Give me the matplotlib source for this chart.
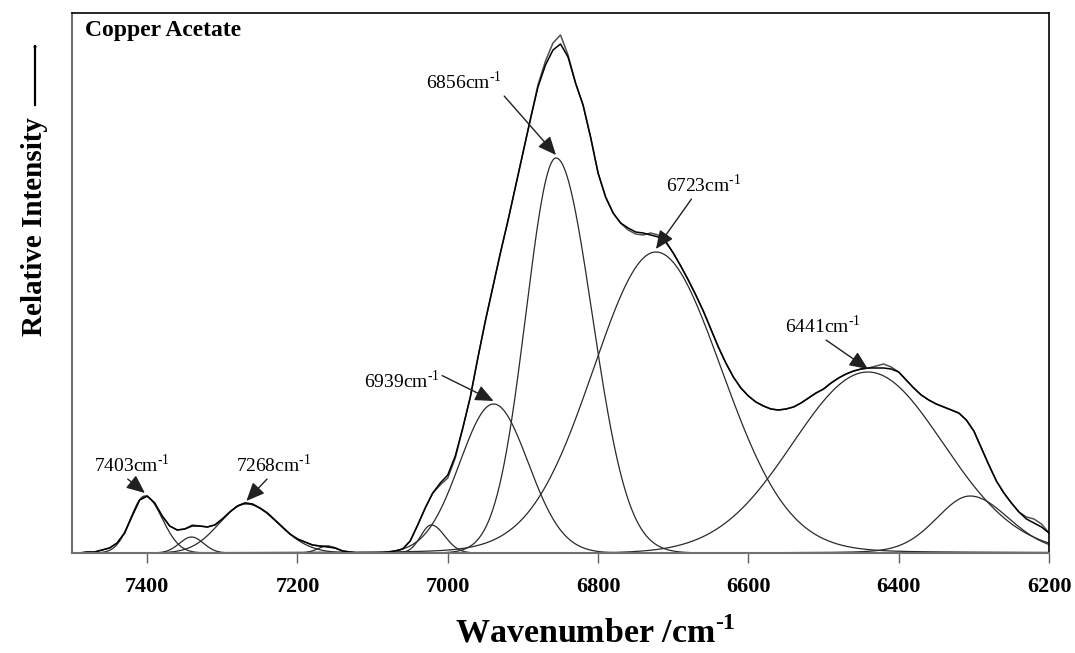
import numpy as np
import matplotlib
matplotlib.use("Agg")
import matplotlib.pyplot as plt

plt.rcParams['font.family'] = ['Liberation Serif', 'DejaVu Serif']
plt.rcParams['mathtext.fontset'] = 'custom'
plt.rcParams['mathtext.rm'] = 'Liberation Serif'
plt.rcParams['mathtext.bf'] = 'Liberation Serif:bold'

# ---- fitted band components (intensity in arbitrary units) ----
centers = [7403, 7341, 7268, 7160, 7022, 6939, 6856, 6723, 6441, 6305]
heights = [57, 16, 49, 7, 28, 149, 395, 301, 181, 57]
width_high = [19, 16, 36, 13, 14, 45, 40, 84, 100, 45]   # sigma, high-wavenumber side
width_low = [23, 16, 42, 13, 18, 46, 48, 88, 100, 52]    # sigma, low-wavenumber side
lorentz_frac = [0.0, 0.0, 0.0, 0.0, 0.0, 0.0, 0.0, 0.05, 0.0, 0.15]

# ---- measured spectrum and fitted envelope, sampled every 10 cm-1 from 7490 to 6200 ----
wavenumber = np.arange(7490, 6195, -10)
observed = [0, 1, 1, 3, 5, 10, 20, 37, 53, 57,
            50, 37, 27, 23, 24, 28, 27, 26, 28, 34,
            41, 47, 50, 49, 45, 40, 33, 26, 19, 14,
            11, 8, 7, 7, 5, 2, 1, 0, 0, 0,
            0, 1, 2, 4, 12, 28, 45, 60, 68, 75,
            95, 125, 156, 195, 232, 266, 300, 332, 366, 400,
            434, 468, 492, 510, 518, 498, 470, 448, 416, 380,
            356, 340, 330, 323, 319, 318, 320, 318, 312, 300,
            287, 273, 258, 242, 224, 206, 190, 176, 165, 157,
            151, 147, 144, 143, 144, 146, 150, 155, 160, 164,
            170, 175, 179, 182, 184, 185, 187, 189, 186, 181,
            173, 165, 158, 153, 149, 146, 143, 140, 133, 122,
            105, 88, 72, 60, 50, 41, 36, 34, 29, 20]
fitted = [0, 1, 1, 3, 5, 10, 20, 37, 53, 57,
          50, 37, 27, 23, 24, 27, 27, 26, 28, 34,
          41, 47, 50, 49, 45, 40, 33, 26, 19, 14,
          11, 8, 7, 6, 5, 2, 1, 0, 0, 0,
          0, 1, 2, 4, 12, 28, 45, 60, 70, 78,
          97, 125, 156, 195, 232, 266, 300, 332, 366, 400,
          434, 466, 488, 503, 509, 496, 470, 448, 416, 380,
          356, 340, 330, 325, 321, 320, 318, 316, 311, 300,
          287, 273, 258, 242, 224, 206, 190, 176, 165, 157,
          151, 147, 144, 143, 144, 146, 150, 155, 160, 164,
          170, 175, 179, 182, 184, 185, 185, 185, 184, 181,
          173, 165, 158, 153, 149, 146, 143, 140, 133, 122,
          105, 88, 72, 60, 50, 41, 34, 30, 26, 20]

label_peaks = [7403, 7268, 6939, 6856, 6723, 6441]
label_texts = ["7403cm$^{\\text{-}1}$", "7268cm$^{\\text{-}1}$", "6939cm$^{\\text{-}1}$",
               "6856cm$^{\\text{-}1}$", "6723cm$^{\\text{-}1}$", "6441cm$^{\\text{-}1}$"]

xticks = [7400, 7200, 7000, 6800, 6600, 6400, 6200]


def band(x, c, h, wh, wl, eta):
    s = np.where(x >= c, wh, wl)
    u = (x - c) / s
    return h * ((1 - eta) * np.exp(-0.5 * u ** 2) + eta / (1 + u ** 2 / 1.3863))


W, H = 1075, 653
fig = plt.figure(figsize=(W / 100, H / 100), dpi=100)
ax = fig.add_axes([72 / W, 1 - 553 / H, (1049 - 72) / W, 540 / H])

x = np.linspace(7500, 6200, 1301)
for c, h, wh, wl, eta in zip(centers, heights, width_high, width_low, lorentz_frac):
    ax.plot(x, band(x, c, h, wh, wl, eta), color='#2a2a2a', lw=0.9)
ax.plot(wavenumber, observed, color='#505050', lw=1.1)
ax.plot(wavenumber, fitted, color='black', lw=1.1)

offsets = {7403: (-13, 28, (0.4, 0.0)), 7268: (27, 36, (0.45, 0.0)),
           6939: (-92, 20, (1.0, 0.8)), 6856: (-92, 73, (1.0, 0.0)),
           6723: (48, 64, (0.36, 0.0)), 6441: (-45, 43, (0.49, 0.0))}
for pk, txt in zip(label_peaks, label_texts):
    i = centers.index(pk)
    dx, dy, rp = offsets[pk]
    ax.annotate(txt, xy=(pk, heights[i] + 3), xytext=(dx, dy),
                textcoords='offset pixels', ha='center', va='center',
                fontsize=14,
                arrowprops=dict(arrowstyle='-|>,head_length=0.8,head_width=0.35',
                                color='#202020', lw=1.0, relpos=rp,
                                shrinkA=0, shrinkB=0))

ax.set_xlim(7500, 6200)
ax.set_ylim(0, 540)
ax.set_xticks(xticks)
ax.set_xticklabels([str(t) for t in xticks], fontsize=16, fontweight='bold')
ax.tick_params(axis='x', direction='out', length=7, width=1, color='#606060', pad=10)
ax.set_yticks([])
for s in ['left', 'bottom']:
    ax.spines[s].set_color('#707070')
    ax.spines[s].set_linewidth(1.5)
for s in ['top', 'right']:
    ax.spines[s].set_color('black')
    ax.spines[s].set_linewidth(1.2)

ax.text(0.013, 0.968, 'Copper Acetate', transform=ax.transAxes, fontsize=17,
        fontweight='bold', ha='left', va='center')

fig.text(595 / W, 1 - 633 / H, r'Wavenumber /cm$^{\mathbf{\text{-}1}}$', fontsize=24.5,
         fontweight='bold', ha='center', va='center')
fig.text(35 / W, 1 - 227 / H, 'Relative Intensity', fontsize=21, fontweight='bold',
         rotation=90, ha='center', va='center')
fig.patches.append(matplotlib.patches.FancyArrowPatch(
    (35 / W, 1 - 108 / H), (35 / W, 1 - 40 / H), transform=fig.transFigure,
    arrowstyle='-|>,head_length=0.8,head_width=0.3', color='black', lw=1.6))

fig.savefig('out.png', dpi=100)
